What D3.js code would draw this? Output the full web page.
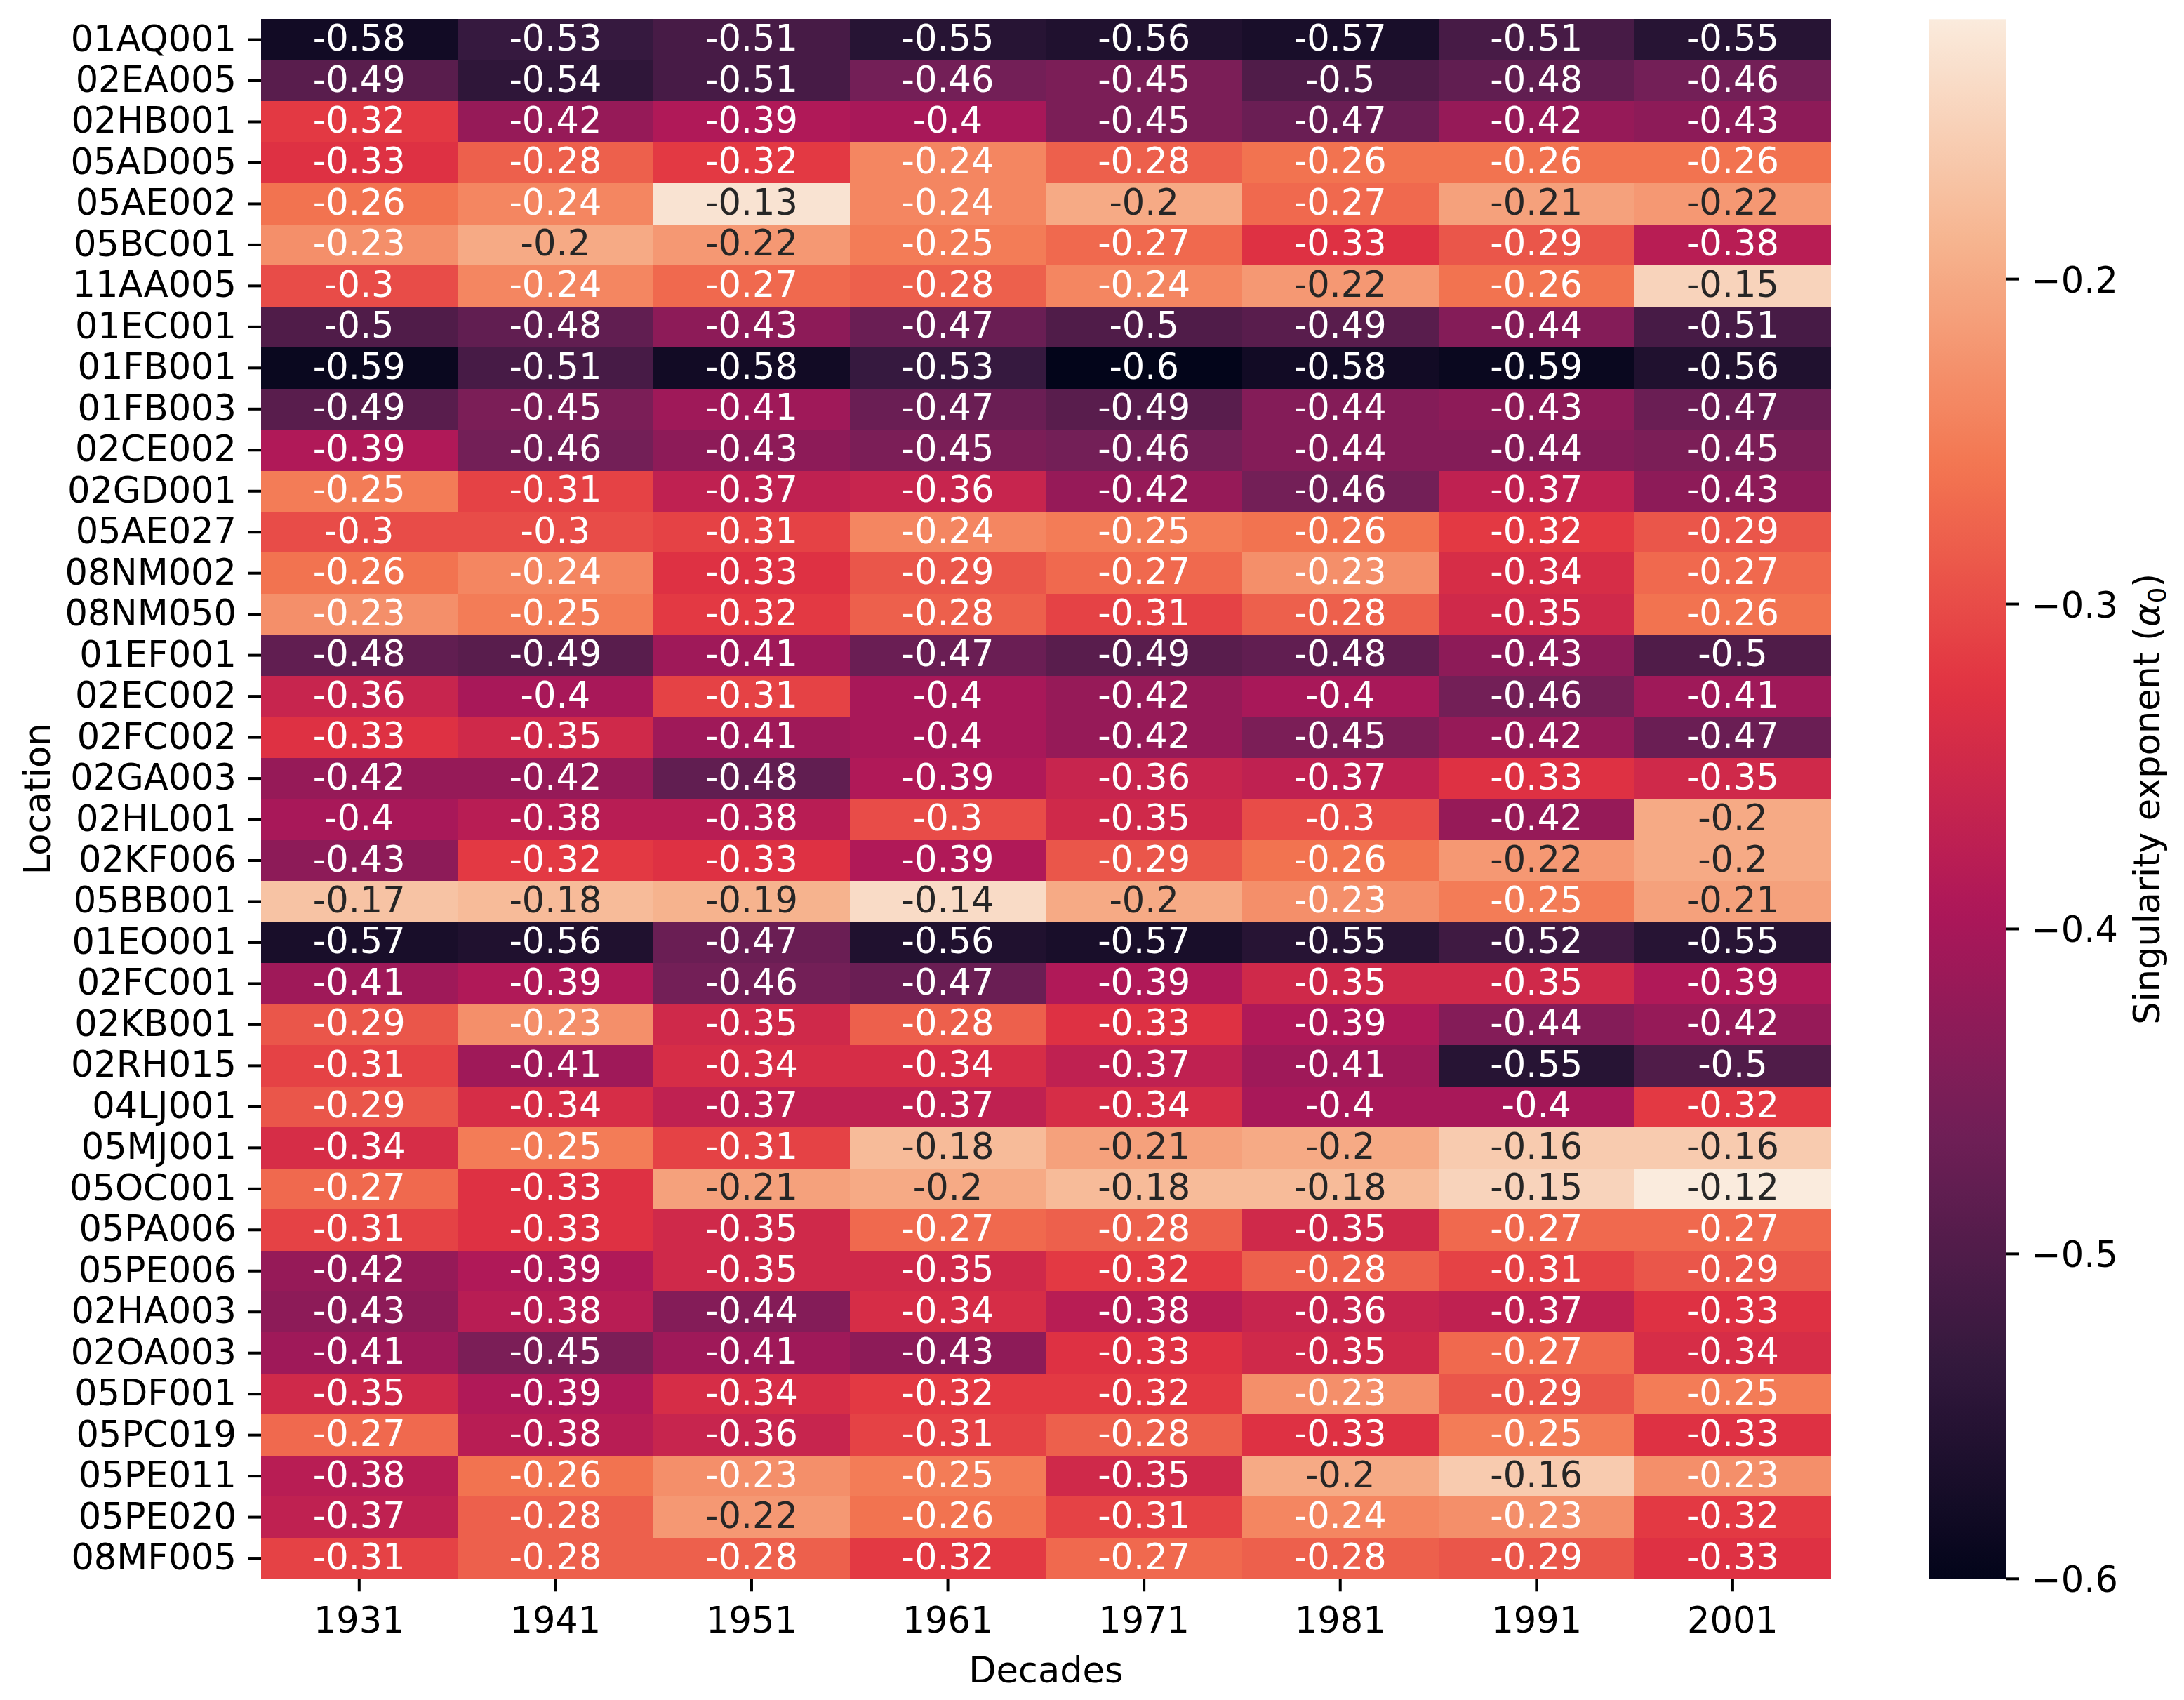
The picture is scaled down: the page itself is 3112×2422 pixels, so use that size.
<!DOCTYPE html>
<html>
<head>
<meta charset="utf-8">
<script src="https://cdn.jsdelivr.net/npm/d3@7"></script>
<style>
  body { margin: 0; background: #fff; }
  text { font-family: "DejaVu Sans", sans-serif; }
</style>
</head>
<body>
<svg id="chart" width="3112" height="2422"></svg>
<script>

// decades (columns)
const decades = ["1931", "1941", "1951", "1961", "1971", "1981", "1991", "2001"];

// stations (rows)
const locations = ["01AQ001", "02EA005", "02HB001", "05AD005", "05AE002", "05BC001", "11AA005",
    "01EC001", "01FB001", "01FB003", "02CE002", "02GD001", "05AE027", "08NM002", "08NM050",
    "01EF001", "02EC002", "02FC002", "02GA003", "02HL001", "02KF006", "05BB001", "01EO001",
    "02FC001", "02KB001", "02RH015", "04LJ001", "05MJ001", "05OC001", "05PA006", "05PE006",
    "02HA003", "02OA003", "05DF001", "05PC019", "05PE011", "05PE020", "08MF005"];

// singularity exponent, one row per station
const alpha0 = [
    [-0.58, -0.53, -0.51, -0.55, -0.56, -0.57, -0.51, -0.55],
    [-0.49, -0.54, -0.51, -0.46, -0.45, -0.50, -0.48, -0.46],
    [-0.32, -0.42, -0.39, -0.40, -0.45, -0.47, -0.42, -0.43],
    [-0.33, -0.28, -0.32, -0.24, -0.28, -0.26, -0.26, -0.26],
    [-0.26, -0.24, -0.13, -0.24, -0.20, -0.27, -0.21, -0.22],
    [-0.23, -0.20, -0.22, -0.25, -0.27, -0.33, -0.29, -0.38],
    [-0.30, -0.24, -0.27, -0.28, -0.24, -0.22, -0.26, -0.15],
    [-0.50, -0.48, -0.43, -0.47, -0.50, -0.49, -0.44, -0.51],
    [-0.59, -0.51, -0.58, -0.53, -0.60, -0.58, -0.59, -0.56],
    [-0.49, -0.45, -0.41, -0.47, -0.49, -0.44, -0.43, -0.47],
    [-0.39, -0.46, -0.43, -0.45, -0.46, -0.44, -0.44, -0.45],
    [-0.25, -0.31, -0.37, -0.36, -0.42, -0.46, -0.37, -0.43],
    [-0.30, -0.30, -0.31, -0.24, -0.25, -0.26, -0.32, -0.29],
    [-0.26, -0.24, -0.33, -0.29, -0.27, -0.23, -0.34, -0.27],
    [-0.23, -0.25, -0.32, -0.28, -0.31, -0.28, -0.35, -0.26],
    [-0.48, -0.49, -0.41, -0.47, -0.49, -0.48, -0.43, -0.50],
    [-0.36, -0.40, -0.31, -0.40, -0.42, -0.40, -0.46, -0.41],
    [-0.33, -0.35, -0.41, -0.40, -0.42, -0.45, -0.42, -0.47],
    [-0.42, -0.42, -0.48, -0.39, -0.36, -0.37, -0.33, -0.35],
    [-0.40, -0.38, -0.38, -0.30, -0.35, -0.30, -0.42, -0.20],
    [-0.43, -0.32, -0.33, -0.39, -0.29, -0.26, -0.22, -0.20],
    [-0.17, -0.18, -0.19, -0.14, -0.20, -0.23, -0.25, -0.21],
    [-0.57, -0.56, -0.47, -0.56, -0.57, -0.55, -0.52, -0.55],
    [-0.41, -0.39, -0.46, -0.47, -0.39, -0.35, -0.35, -0.39],
    [-0.29, -0.23, -0.35, -0.28, -0.33, -0.39, -0.44, -0.42],
    [-0.31, -0.41, -0.34, -0.34, -0.37, -0.41, -0.55, -0.50],
    [-0.29, -0.34, -0.37, -0.37, -0.34, -0.40, -0.40, -0.32],
    [-0.34, -0.25, -0.31, -0.18, -0.21, -0.20, -0.16, -0.16],
    [-0.27, -0.33, -0.21, -0.20, -0.18, -0.18, -0.15, -0.12],
    [-0.31, -0.33, -0.35, -0.27, -0.28, -0.35, -0.27, -0.27],
    [-0.42, -0.39, -0.35, -0.35, -0.32, -0.28, -0.31, -0.29],
    [-0.43, -0.38, -0.44, -0.34, -0.38, -0.36, -0.37, -0.33],
    [-0.41, -0.45, -0.41, -0.43, -0.33, -0.35, -0.27, -0.34],
    [-0.35, -0.39, -0.34, -0.32, -0.32, -0.23, -0.29, -0.25],
    [-0.27, -0.38, -0.36, -0.31, -0.28, -0.33, -0.25, -0.33],
    [-0.38, -0.26, -0.23, -0.25, -0.35, -0.20, -0.16, -0.23],
    [-0.37, -0.28, -0.22, -0.26, -0.31, -0.24, -0.23, -0.32],
    [-0.31, -0.28, -0.28, -0.32, -0.27, -0.28, -0.29, -0.33]
];

// colorbar
const cbarTicks = [-0.6, -0.5, -0.4, -0.3, -0.2];
const vmin = -0.6, vmax = -0.12;

// seaborn "rocket" colormap, approximated by its palette stops
const rocket = ["#03051a", "#35193e", "#701f57", "#ad1759", "#e13342", "#f37651", "#f6b48f", "#faebdd"];

//////////////////////////////////////////////////
// layout (pixels)
//////////////////////////////////////////////////
const hm = { left: 372, right: 2608.7, top: 27.3, bottom: 2249.3 };
const cb = { left: 2748.3, right: 2859 };
const fs = 51;        // font size
const tickLen = 18;
const tickW = 4;
const pad = 17;

const svg = d3.select("#chart");
svg.append("rect").attr("width", 3112).attr("height", 2422).attr("fill", "#fff");

const x = d3.scaleBand().domain(decades).range([hm.left, hm.right]);
const y = d3.scaleBand().domain(locations).range([hm.top, hm.bottom]);

const interp = d3.piecewise(d3.interpolateRgb, rocket);
const color = v => interp(Math.max(0, Math.min(1, (v - vmin) / (vmax - vmin))));

// relative luminance, to choose the annotation colour like seaborn does
function luminance(c){
    const rgb = d3.rgb(c);
    const lin = [rgb.r, rgb.g, rgb.b].map(v => {
	v = v / 255;
	return v <= 0.03928 ? v / 12.92 : Math.pow((v + 0.055) / 1.055, 2.4);
    });
    return 0.2126 * lin[0] + 0.7152 * lin[1] + 0.0722 * lin[2];
}

// flatten the matrix into cells
const cells = [];
locations.forEach((loc, i) => {
    decades.forEach((dec, j) => {
	cells.push({ loc: loc, dec: dec, v: alpha0[i][j] });
    });
});

// cells
svg.append("g").selectAll("rect")
    .data(cells)
    .join("rect")
    .attr("x", d => x(d.dec))
    .attr("y", d => y(d.loc))
    .attr("width", x.bandwidth() + 0.6)
    .attr("height", y.bandwidth() + 0.6)
    .attr("fill", d => color(d.v))
    .attr("shape-rendering", "crispEdges");

// annotations (plain hyphen, like the "{:.2g}" format)
svg.append("g").selectAll("text")
    .data(cells)
    .join("text")
    .attr("x", d => x(d.dec) + x.bandwidth() / 2)
    .attr("y", d => y(d.loc) + y.bandwidth() / 2 + 15.5)
    .attr("text-anchor", "middle")
    .attr("font-size", fs + "px")
    .attr("fill", d => luminance(color(d.v)) > 0.408 ? "#262626" : "#ffffff")
    .text(d => String(+d.v.toFixed(2)));

// y axis (locations)
const yAxis = svg.append("g");
yAxis.selectAll("line")
    .data(locations)
    .join("line")
    .attr("x1", hm.left - tickLen).attr("x2", hm.left)
    .attr("y1", d => y(d) + y.bandwidth() / 2)
    .attr("y2", d => y(d) + y.bandwidth() / 2)
    .attr("stroke", "#000").attr("stroke-width", tickW);
yAxis.selectAll("text")
    .data(locations)
    .join("text")
    .attr("x", hm.left - tickLen - pad)
    .attr("y", d => y(d) + y.bandwidth() / 2 + 16)
    .attr("text-anchor", "end")
    .attr("font-size", fs + "px")
    .attr("fill", "#000")
    .text(d => d);

// x axis (decades)
const xAxis = svg.append("g");
xAxis.selectAll("line")
    .data(decades)
    .join("line")
    .attr("x1", d => x(d) + x.bandwidth() / 2)
    .attr("x2", d => x(d) + x.bandwidth() / 2)
    .attr("y1", hm.bottom).attr("y2", hm.bottom + tickLen)
    .attr("stroke", "#000").attr("stroke-width", tickW);
xAxis.selectAll("text")
    .data(decades)
    .join("text")
    .attr("x", d => x(d) + x.bandwidth() / 2)
    .attr("y", 2326)
    .attr("text-anchor", "middle")
    .attr("font-size", fs + "px")
    .attr("fill", "#000")
    .text(d => d);

// axis titles
svg.append("text")
    .attr("x", (hm.left + hm.right) / 2)
    .attr("y", 2396.5)
    .attr("text-anchor", "middle")
    .attr("font-size", fs + "px")
    .text("Decades");

svg.append("text")
    .attr("transform", "translate(71," + ((hm.top + hm.bottom) / 2) + ") rotate(-90)")
    .attr("text-anchor", "middle")
    .attr("font-size", fs + "px")
    .text("Location");

//////////////////////////////////////////////////
// colorbar
//////////////////////////////////////////////////
const cy = d3.scaleLinear().domain([vmin, vmax]).range([hm.bottom, hm.top]);

const grad = svg.append("defs").append("linearGradient")
    .attr("id", "cbar")
    .attr("x1", 0).attr("y1", 1).attr("x2", 0).attr("y2", 0);
grad.selectAll("stop")
    .data(d3.range(0, 1.0001, 1 / 64))
    .join("stop")
    .attr("offset", d => d)
    .attr("stop-color", d => interp(d));

svg.append("rect")
    .attr("x", cb.left)
    .attr("y", hm.top)
    .attr("width", cb.right - cb.left)
    .attr("height", hm.bottom - hm.top)
    .attr("fill", "url(#cbar)");

const cAxis = svg.append("g");
cAxis.selectAll("line")
    .data(cbarTicks)
    .join("line")
    .attr("x1", cb.right).attr("x2", cb.right + tickLen)
    .attr("y1", d => cy(d)).attr("y2", d => cy(d))
    .attr("stroke", "#000").attr("stroke-width", tickW);
cAxis.selectAll("text")
    .data(cbarTicks)
    .join("text")
    .attr("x", cb.right + tickLen + pad)
    .attr("y", d => cy(d) + 19)
    .attr("font-size", fs + "px")
    .attr("fill", "#000")
    .text(d => d3.format(".1f")(d).replace("-", "\u2212"));

// colorbar label, with the alpha subscript
const cLabel = svg.append("text")
    .attr("transform", "translate(3077," + ((hm.top + hm.bottom) / 2) + ") rotate(-90)")
    .attr("text-anchor", "middle")
    .attr("font-size", fs + "px");
cLabel.append("tspan").text("Singularity exponent (");
cLabel.append("tspan").attr("font-style", "italic").text("\u03b1");
cLabel.append("tspan").attr("font-size", (fs * 0.7) + "px").attr("dy", 9).text("0");
cLabel.append("tspan").attr("dy", -9).text(")");

</script>
</body>
</html>
